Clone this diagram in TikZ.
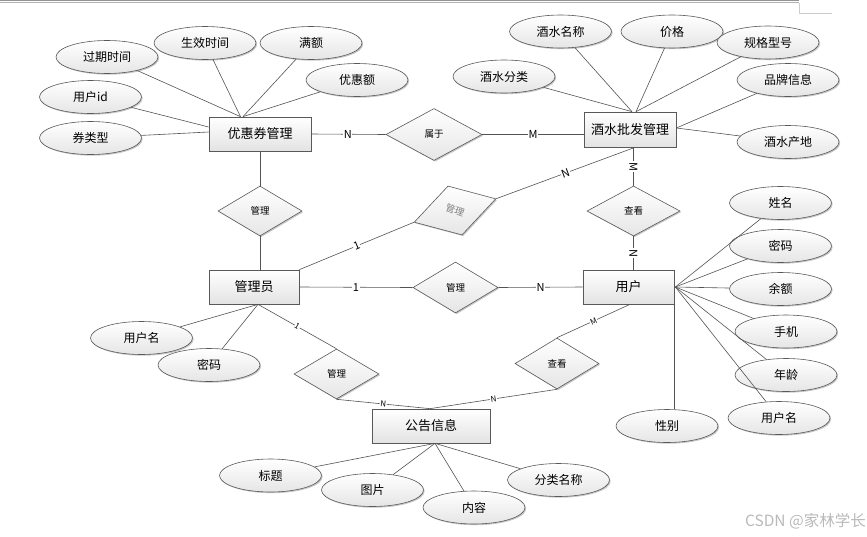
\documentclass[tikz,border=0pt]{standalone}
\usepackage{fontspec}
\setmainfont{Noto Sans CJK SC}
\usetikzlibrary{shapes.geometric,calc,shadows}
\begin{document}
\begin{tikzpicture}[x=1pt,y=-1pt,
  shd/.style={drop shadow={shadow xshift=1.2pt,shadow yshift=-1.2pt,fill=black,opacity=0.22}},
  ent/.style={rectangle, draw=gray!70!black, line width=0.7pt, top color=white, bottom color=gray!22,
              inner sep=0pt, font=\fontsize{13}{13}\selectfont, shd},
  attr/.style={ellipse, draw=gray!70!black, line width=0.6pt, top color=white, bottom color=gray!20,
              minimum width=102pt, minimum height=33pt, inner sep=0pt, font=\fontsize{12}{12}\selectfont, shd},
  rel/.style={diamond, draw=gray!70!black, line width=0.6pt, top color=white, bottom color=gray!20,
              inner sep=0pt, font=\fontsize{9.5}{9.5}\selectfont, shd},
  conn/.style={draw=gray!65!black, line width=0.6pt},
  lab/.style={fill=white, inner sep=0.6pt, font=\fontsize{11}{11}\selectfont},
  slab/.style={fill=white, inner sep=0.5pt, font=\fontsize{8}{8}\selectfont},
]
\useasboundingbox (0,0) rectangle (867,536);
% window frame remnants
\draw[gray!85, line width=1pt] (0,0.6) -- (799,0.6);
\draw[gray!60, line width=0.8pt] (0,2.8) -- (799,2.8);
\draw[gray!40, line width=0.6pt] (799,3) -- (799,13) -- (832,13);

% entities
\node[ent, minimum width=102pt, minimum height=34pt] (yhq) at (260,134) {优惠券管理};
\node[ent, minimum width=92pt, minimum height=35pt] (js) at (630,129.5) {酒水批发管理};
\node[ent, minimum width=90pt, minimum height=34pt] (gly) at (254,287) {管理员};
\node[ent, minimum width=91pt, minimum height=34pt] (yh) at (628.5,287) {用户};
\node[ent, minimum width=118pt, minimum height=34pt] (gg) at (431,426) {公告信息};

% relations
\node[rel, minimum width=96pt, minimum height=52pt] (sy) at (434,134.5) {属于};
\node[rel, minimum width=84pt, minimum height=50pt] (mg1) at (260,211) {管理};
\node[rel, rotate=16, minimum width=85pt, minimum height=51pt, text=gray] (mg2) at (455,210.5) {\rotatebox{-36}{管理}};
\node[rel, minimum width=93pt, minimum height=50pt] (ck1) at (633.5,211) {查看};
\node[rel, minimum width=85pt, minimum height=51pt] (mg3) at (455.5,287.5) {管理};
\node[rel, minimum width=85pt, minimum height=50pt] (mg4) at (336.5,374) {管理};
\node[rel, minimum width=84pt, minimum height=51pt] (ck2) at (557,363.5) {查看};

% attributes of 优惠券管理
\node[attr] (gqsj) at (107,57) {过期时间};
\node[attr] (sxsj) at (205,43) {生效时间};
\node[attr] (me) at (311,43) {满额};
\node[attr] (yhe) at (357,80) {优惠额};
\node[attr] (yhid) at (90.5,97) {用户id};
\node[attr] (qlx) at (90.5,138) {券类型};

% attributes of 酒水批发管理
\node[attr] (jsmc) at (560.5,31.5) {酒水名称};
\node[attr] (jg) at (672,31.5) {价格};
\node[attr] (ggxh) at (768,42.5) {规格型号};
\node[attr] (jsfl) at (504,76.5) {酒水分类};
\node[attr] (ppxx) at (788,80) {品牌信息};
\node[attr] (jscd) at (788,142) {酒水产地};

% attributes of 管理员
\node[attr] (yhm1) at (141.5,338) {用户名};
\node[attr] (mm1) at (209,365) {密码};

% attributes of 用户
\node[attr] (xm) at (780.5,203) {姓名};
\node[attr] (mm2) at (780.5,246) {密码};
\node[attr] (ye) at (780.5,289) {余额};
\node[attr] (sj) at (786,331.5) {手机};
\node[attr] (nl) at (786,375) {年龄};
\node[attr] (yhm2) at (779,418) {用户名};
\node[attr] (xb) at (667,426) {性别};

% attributes of 公告信息
\node[attr] (bt) at (270.5,475.5) {标题};
\node[attr] (tp) at (372.5,490) {图片};
\node[attr] (nr) at (474,507.5) {内容};
\node[attr] (flmc) at (558.5,480) {分类名称};

% helper points
\coordinate (yhqT1) at ($(yhq.north)+(-19.5,0)$);
\coordinate (yhqT2) at ($(yhq.north)+(-17,0)$);
\coordinate (yhqL1) at ($(yhq.west)+(0,-7)$);
\coordinate (yhqL2) at ($(yhq.west)+(0,-2)$);
\coordinate (jsT1) at ($(js.north)+(2,0)$);
\coordinate (jsT2) at ($(js.north)+(6,0)$);
\coordinate (jsR) at ($(js.east)+(0,-1.5)$);
\coordinate (jsB) at ($(js.south)+(5,0)$);
\coordinate (yhR) at ($(yh.east)+(1,0)$);
\coordinate (yhB) at ($(yh.south)+(1.5,0)$);
\coordinate (glyB) at ($(gly.south)+(4,0)$);
\coordinate (ggT) at ($(gg.north)+(-1,0)$);
\coordinate (ggB) at ($(gg.south)+(4,0)$);

% attribute connectors
\foreach \a in {gqsj,sxsj} \draw[conn] (\a) -- (yhqT1);
\foreach \a in {me,yhe} \draw[conn] (\a) -- (yhqT2);
\draw[conn] (yhid) -- (yhqL1);
\draw[conn] (qlx) -- (yhqL2);
\foreach \a in {jsmc,jsfl} \draw[conn] (\a) -- (jsT1);
\foreach \a in {jg,ggxh} \draw[conn] (\a) -- (jsT2);
\foreach \a in {ppxx,jscd} \draw[conn] (\a) -- (jsR);
\foreach \a in {xm,mm2,ye,sj,nl,yhm2} \draw[conn] (\a) -- (yhR);
\draw[conn] (yh.south east) -- (yh.south east |- xb.north);
\foreach \a in {yhm1,mm1} \draw[conn] (\a) -- (glyB);
\foreach \a in {bt,tp,nr,flmc} \draw[conn] (\a) -- (ggB);

% relationship connectors
\draw[conn] (yhq.east) -- node[lab, pos=.49] {N} (sy.west);
\draw[conn] (sy.east) -- node[lab, pos=.5] {M} (js.west |- sy.east);
\draw[conn] (yhq.south) -- (mg1.north);
\draw[conn] (mg1.south) -- (mg1.south |- gly.north);
\draw[conn] (gly.north east) -- node[lab, sloped, pos=.5] {1} (mg2.west);
\draw[conn] (mg2.east) -- node[lab, sloped, pos=.5] {N} (jsB);
\draw[conn] (ck1.north |- js.south) -- node[lab, sloped, pos=.5] {M} (ck1.north);
\draw[conn] (ck1.south) -- node[lab, sloped, pos=.5] {N} (ck1.south |- yh.north);
\draw[conn] (gly.east) -- node[lab, pos=.5] {1} (mg3.west);
\draw[conn] (mg3.east) -- node[lab, pos=.5] {N} (yh.west);
\draw[conn] (glyB) -- node[slab, sloped, pos=.5] {1} (mg4.north);
\draw[conn] (mg4.south) -- node[slab, sloped, pos=.5] {N} (ggT);
\draw[conn] (ck2.north) -- node[slab, sloped, pos=.5] {M} (yhB);
\draw[conn] (ck2.south) -- node[slab, sloped, pos=.5] {N} (ggT);

% watermark
\node[text=gray!55, font=\fontsize{15.5}{15.5}\selectfont, anchor=east, inner sep=0pt] (wm) at (866,521) {CSDN @家林学长};
\end{tikzpicture}
\end{document}
